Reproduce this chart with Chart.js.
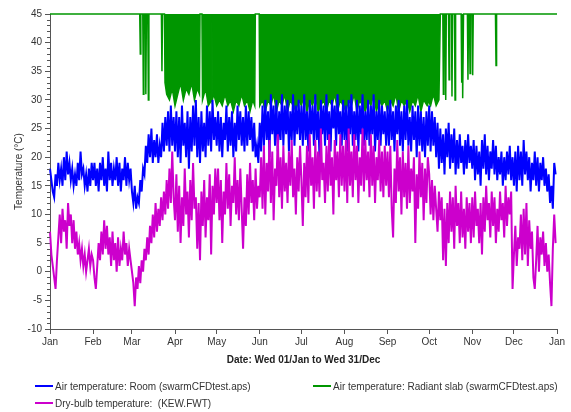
<!DOCTYPE html>
<html>
<head>
<meta charset="utf-8">
<script src="https://cdn.jsdelivr.net/npm/chart.js@4.4.0/dist/chart.umd.min.js"></script>
<style>
  html, body { margin: 0; padding: 0; background: #fff; }
  #wrap { position: relative; width: 571px; height: 412px; font-family: "Liberation Sans", Arial, sans-serif; }
  #chart { position: absolute; left: 0; top: 0; }
  .key { position: absolute; font-size: 10px; color: #333; white-space: nowrap; line-height: 12px; }
  .key i { display: inline-block; width: 18px; height: 2px; vertical-align: middle; margin-right: 2px; position: relative; top: -1px; }
</style>
</head>
<body>
<div id="wrap">
  <canvas id="chart" width="571" height="412"></canvas>
  <div class="key" style="left:35px; top:381px"><i style="background:#0000ff"></i>Air temperature: Room (swarmCFDtest.aps)</div>
  <div class="key" style="left:313px; top:381px"><i style="background:#009600"></i>Air temperature: Radiant slab (swarmCFDtest.aps)</div>
  <div class="key" style="left:35px; top:398px"><i style="background:#cc00cc"></i>Dry-bulb temperature:&nbsp; (KEW.FWT)</div>
</div>
<script>
// month ticks (day of year) and their labels
const monthDays = [0, 31, 59, 90, 120, 151, 181, 212, 243, 273, 304, 334, 365];
const monthLabels = ['Jan', 'Feb', 'Mar', 'Apr', 'May', 'Jun', 'Jul', 'Aug', 'Sep', 'Oct', 'Nov', 'Dec', 'Jan'];

// one sample per day for room air and dry-bulb
const sampleDays = Array.from({ length: 365 }, (_, i) => i);

// Air temperature: Room (deg C), one line per month
const roomTemps = [
  18, 16, 14, 13, 17, 15, 19, 16, 18, 15, 20, 16, 21, 17, 19, 16, 18, 15, 17, 15, 19, 16, 21, 17, 18, 15, 17, 14, 18, 15, 19,
  16, 19, 15, 18, 14, 19, 16, 20, 15, 18, 14, 21, 16, 19, 15, 18, 16, 20, 15, 19, 14, 18, 16, 20, 15, 19, 16, 18,
  14, 12, 15, 11, 13, 12, 16, 14, 18, 17, 22, 19, 24, 20, 25, 19, 23, 20, 24, 19, 22, 20, 26, 21, 27, 22, 28, 21, 29, 22, 27,
  21, 28, 20, 27, 19, 29, 22, 26, 20, 28, 18, 27, 21, 29, 22, 30, 20, 27, 19, 28, 21, 26, 20, 29, 22, 28, 21, 30, 23, 27,
  22, 28, 21, 27, 20, 26, 23, 29, 21, 27, 22, 28, 20, 26, 21, 29, 23, 28, 22, 27, 21, 29, 22, 28, 23, 27, 21, 26, 20, 22, 19,
  26, 21, 29, 22, 30, 23, 28, 20, 31, 24, 29, 22, 30, 21, 28, 23, 31, 22, 29, 24, 30, 21, 28, 23, 31, 22, 29, 24, 30, 23,
  29, 22, 31, 23, 28, 21, 30, 24, 29, 22, 31, 23, 28, 20, 30, 24, 29, 22, 31, 23, 28, 21, 30, 25, 29, 22, 31, 24, 28, 22, 30,
  23, 29, 21, 30, 24, 31, 22, 28, 23, 30, 21, 29, 24, 31, 22, 28, 23, 30, 22, 29, 24, 31, 21, 28, 23, 30, 22, 29, 24, 28, 22,
  29, 22, 30, 23, 28, 21, 29, 24, 30, 22, 28, 21, 29, 23, 30, 22, 27, 21, 29, 23, 28, 20, 29, 22, 28, 21, 27, 20, 28, 22,
  29, 21, 28, 22, 27, 20, 26, 18, 25, 19, 24, 17, 25, 20, 26, 18, 24, 19, 25, 17, 23, 18, 24, 19, 22, 17, 23, 18, 24, 19, 22,
  18, 23, 16, 22, 17, 21, 15, 23, 18, 24, 17, 22, 16, 21, 18, 23, 17, 22, 16, 20, 17, 21, 15, 20, 16, 21, 17, 22, 16, 20,
  15, 21, 14, 22, 16, 21, 15, 23, 17, 21, 16, 20, 14, 19, 16, 21, 15, 20, 14, 19, 16, 20, 15, 18, 14, 17, 12, 15, 11, 19, 17
];

// Dry-bulb temperature, Kew weather file (deg C)
const dryBulbTemps = [
  7, 3, 1, -1, -3, 2, 6, 10, 5, 11, 7, 9, 4, 12, 8, 10, 5, 9, 4, 7, 3, 5, 2, 4, 1, 3, 0, 2, 4, 1, 3,
  2, -1, -3, 1, 5, 2, 7, 3, 9, 4, 8, 3, 6, 1, 7, 2, 5, 0, 6, 1, 4, 2, 7, 3, 5, 1, 4, 2,
  0, -2, -6, -1, -3, 1, -2, 2, 0, 4, 2, 6, 3, 8, 5, 10, 6, 12, 7, 11, 8, 13, 9, 14, 10, 16, 11, 18, 12, 21, 13,
  9, 17, 7, 15, 5, 13, 8, 18, 10, 14, 6, 16, 9, 19, 11, 13, 4, 12, 2, 14, 8, 16, 6, 13, 9, 17, 3, 15, 10, 18,
  12, 18, 9, 16, 5, 14, 10, 19, 11, 17, 8, 15, 12, 20, 10, 16, 9, 18, 11, 4, 13, 8, 17, 10, 19, 12, 16, 9, 18, 11, 15,
  13, 20, 11, 22, 10, 19, 14, 23, 12, 21, 9, 18, 15, 24, 13, 20, 11, 22, 14, 19, 12, 21, 15, 23, 13, 18, 10, 20, 14, 22,
  16, 8, 19, 13, 22, 12, 24, 15, 20, 11, 23, 14, 21, 13, 25, 16, 19, 12, 22, 14, 24, 15, 20, 10, 23, 16, 21, 13, 24, 15, 22,
  14, 23, 12, 25, 15, 21, 13, 24, 16, 22, 12, 20, 15, 25, 14, 23, 16, 21, 13, 24, 15, 22, 12, 20, 16, 23, 14, 21, 13, 22, 15,
  21, 13, 22, 11, 6, 18, 12, 23, 14, 20, 10, 21, 13, 19, 11, 22, 12, 18, 14, 20, 5, 17, 11, 21, 13, 19, 9, 18, 12, 20,
  17, 10, 16, 9, 15, 11, 7, 14, 9, 13, 2, 11, 1, 12, 5, 14, 7, 13, 4, 15, 8, 12, 5, 14, 6, 11, 4, 13, 7, 12, 5,
  13, 6, 14, 8, 11, 5, 12, 3, 13, 7, 15, 9, 12, 6, 14, 8, 13, 5, 11, 7, 14, 9, 12, 6, 15, 8, 13, 10, 14, -3,
  3, 8, 1, 6, 4, 10, 2, 11, 3, 12, 1, 9, 4, 7, -1, -3, 2, 8, 0, 6, 3, 7, 1, 5, 0, 3, -2, -6, 4, 10, 5
];

// Air temperature: Radiant slab - sits at 45 when idle, drops to ~30 when running
const slabDays = [
  0, 64.6, 65, 65.4, 66.8, 67.2, 67.6, 68.6, 69, 69.4, 70.4, 70.8, 71.2, 80.2, 80.6, 81, 82.4, 82.8,
  84, 86, 88, 90, 92, 94, 96, 98, 100, 102, 104, 106, 107.6, 108, 109.4, 109.8, 112, 114, 116.4, 116.6, 116.8,
  118, 120, 122, 124, 126, 128, 130, 132, 134, 136, 138, 140, 142, 144, 146, 147.4, 147.8, 150.6, 151,
  153, 155, 157, 159, 161, 163, 165, 167, 169, 171, 173, 175, 177, 179, 181, 183, 185, 187, 189, 191, 193,
  195, 197, 199, 201, 203, 205, 207, 209, 211, 213, 215, 217, 219, 221, 223, 225, 227, 229, 231, 233, 235,
  237, 239, 241, 243, 244.8, 245, 245.2, 247, 249, 251, 253, 255, 257, 259, 261, 263, 265, 267, 269,
  271.6, 271.8, 272, 274, 276, 278, 280, 281,
  282.8, 283.2, 283.6, 284.5, 284.9, 285.3, 286.9, 287.3, 287.7, 289, 289.4, 289.8, 291.2, 291.6, 292,
  296, 296.4, 296.8, 296.9, 297.3, 297.7, 300.5, 300.9, 301.3, 302, 302.4, 302.8, 303.9, 304.3, 304.7,
  320.7, 321.1, 321.5, 365
];
const slabTemps = [
  45, 45, 38, 45, 45, 31, 45, 45, 31, 45, 45, 30, 45, 45, 35, 45, 45, 33,
  31, 30, 32, 29, 31, 33, 30, 32, 31, 33, 30, 32, 31, 45, 45, 30, 32, 29, 30, 45, 30,
  31, 29, 30, 29, 31, 29, 30, 28, 30, 29, 31, 29, 30, 28, 30, 29, 45, 45, 29,
  30, 28, 30, 29, 31, 28, 30, 29, 31, 28, 30, 29, 28, 30, 29, 31, 28, 30, 29, 31, 28,
  29, 30, 28, 30, 29, 31, 28, 30, 29, 28, 30, 29, 31, 28, 30, 29, 28, 30, 29, 31, 28,
  30, 29, 30, 28, 30, 45, 30, 29, 31, 28, 30, 29, 30, 28, 30, 29, 31, 28, 30,
  29, 45, 30, 29, 31, 29, 30, 45,
  45, 31, 45, 45, 30, 45, 45, 33.5, 45, 45, 30.6, 45, 45, 30, 45,
  45, 33, 45, 45, 30.3, 45, 45, 33.5, 45, 45, 34.6, 45, 45, 34.3, 45,
  45, 36, 45, 45
];

const axisGrey = '#555';
const textGrey = '#333';
const tickFont = { family: '"Liberation Sans", Arial, sans-serif', size: 10 };

// short unlabeled ticks at every degree on the y axis
const minorTicks = {
  id: 'minorTicks',
  afterDraw(chart) {
    const y = chart.scales.y;
    const ctx = chart.ctx;
    ctx.save();
    ctx.strokeStyle = axisGrey;
    ctx.lineWidth = 1;
    ctx.beginPath();
    for (let v = y.min; v <= y.max; v++) {
      if (v % 5 === 0) continue;
      const py = Math.round(y.getPixelForValue(v)) + 0.5;
      ctx.moveTo(y.right - 3, py);
      ctx.lineTo(y.right, py);
    }
    ctx.stroke();
    ctx.restore();
  }
};

const toPoints = (days, temps) => days.map((d, i) => ({ x: d, y: temps[i] }));

new Chart(document.getElementById('chart'), {
  type: 'line',
  data: {
    datasets: [
      {
        label: 'Dry-bulb temperature:  (KEW.FWT)',
        data: toPoints(sampleDays, dryBulbTemps),
        borderColor: '#cc00cc',
        borderWidth: 2,
        pointRadius: 0,
        fill: false,
        order: 0,
        clip: 3
      },
      {
        label: 'Air temperature: Room (swarmCFDtest.aps)',
        data: toPoints(sampleDays, roomTemps),
        borderColor: '#0000ff',
        borderWidth: 2,
        pointRadius: 0,
        fill: false,
        order: 1,
        clip: 3
      },
      {
        label: 'Air temperature: Radiant slab (swarmCFDtest.aps)',
        data: toPoints(slabDays, slabTemps),
        borderColor: '#009600',
        backgroundColor: '#009600',
        borderWidth: 1.5,
        pointRadius: 0,
        fill: { value: 45 },
        order: 2,
        clip: 3
      }
    ]
  },
  options: {
    responsive: false,
    animation: false,
    events: [],
    layout: { padding: { top: 14, right: 14, bottom: 46, left: 0 } },
    plugins: {
      legend: { display: false },
      tooltip: { enabled: false }
    },
    scales: {
      x: {
        type: 'linear',
        min: 0,
        max: 365,
        afterBuildTicks: (s) => { s.ticks = monthDays.map(v => ({ value: v })); },
        afterFit: (s) => { s.height = 37; },
        ticks: {
          autoSkip: false,
          maxRotation: 0,
          padding: 2,
          color: textGrey,
          font: tickFont,
          callback: (v, i) => monthLabels[i]
        },
        grid: { display: true, drawOnChartArea: false, drawTicks: true, tickLength: 5, color: axisGrey },
        border: { display: true, color: axisGrey, width: 1 },
        title: {
          display: true,
          text: 'Date: Wed 01/Jan to Wed 31/Dec',
          color: '#222',
          font: { family: tickFont.family, size: 10, weight: 'bold' },
          padding: { top: 0, bottom: 0 }
        }
      },
      y: {
        min: -10,
        max: 45,
        afterFit: (s) => { s.width = 50; },
        ticks: { stepSize: 5, padding: 3, color: textGrey, font: tickFont },
        grid: { display: true, drawOnChartArea: false, drawTicks: true, tickLength: 5, color: axisGrey },
        border: { display: true, color: axisGrey, width: 1 },
        title: {
          display: true,
          text: 'Temperature (°C)',
          color: textGrey,
          font: { family: tickFont.family, size: 10 },
          padding: { top: 13, bottom: 0 }
        }
      }
    }
  },
  plugins: [minorTicks]
});
</script>
</body>
</html>
